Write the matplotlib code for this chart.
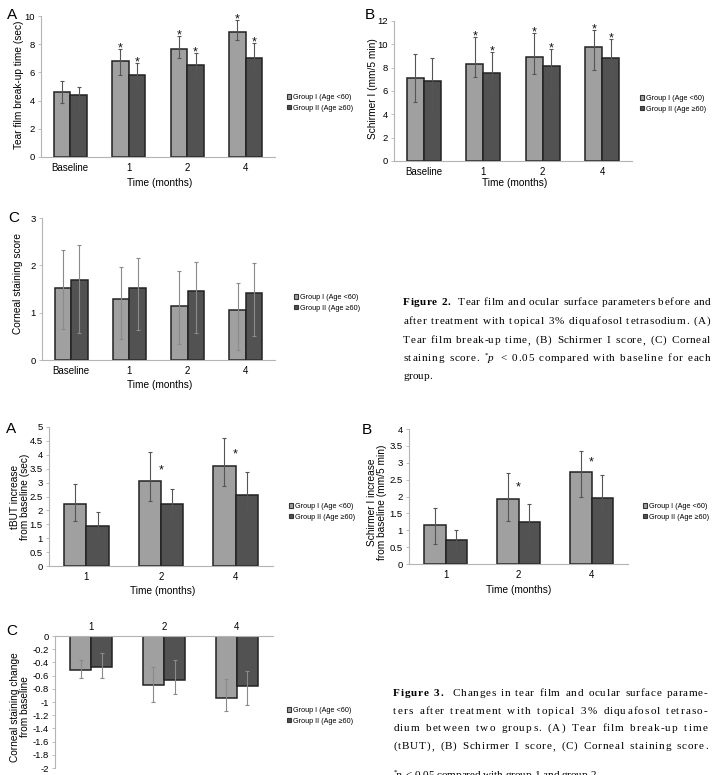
import matplotlib
matplotlib.use('Agg')
import matplotlib.pyplot as plt
from matplotlib.patches import Patch
from matplotlib.ticker import FuncFormatter
from matplotlib.font_manager import FontProperties, findfont, get_font
import numpy as np

plt.rcParams['font.family'] = ['Liberation Sans', 'DejaVu Sans']
plt.rcParams['axes.unicode_minus'] = False

W, H = 712, 775

# ---- data ----
months_f2 = ['Baseline', '1', '2', '4']
months_f3 = ['1', '2', '4']
group_labels = ['Group I (Age <60)', 'Group II (Age \u226560)']

# Figure 2A - tear film break-up time
tbut_g1 = [4.6, 6.8, 7.67, 8.87]
tbut_g1_hi = [5.42, 7.64, 8.58, 9.72]
tbut_g1_lo = [3.8, 5.8, 7.05, 8.28]
tbut_g2 = [4.43, 5.83, 6.53, 7.03]
tbut_g2_hi = [4.95, 6.65, 7.36, 8.11]
tbut_g2_lo = [3.23, 4.95, 5.75, 6.06]

# Figure 2B - Schirmer I
sch_g1 = [7.14, 8.31, 8.91, 9.77]
sch_g1_hi = [9.2, 10.66, 10.94, 11.23]
sch_g1_lo = [5.03, 7.17, 7.43, 7.8]
sch_g2 = [6.86, 7.54, 8.11, 8.86]
sch_g2_hi = [8.83, 9.31, 9.63, 10.46]
sch_g2_lo = [4.17, 5.51, 6.03, 7.06]

# Figure 2C - corneal staining
cs_g1 = [1.53, 1.29, 1.15, 1.06]
cs_g1_hi = [2.33, 1.97, 1.88, 1.63]
cs_g1_lo = [0.66, 0.44, 0.34, 0.22]
cs_g2 = [1.69, 1.52, 1.45, 1.41]
cs_g2_hi = [2.42, 2.15, 2.08, 2.04]
cs_g2_lo = [0.58, 0.63, 0.56, 0.5]

# Figure 3A - tBUT increase
dtbut_g1 = [2.22, 3.06, 3.61]
dtbut_g1_hi = [2.94, 4.1, 4.59]
dtbut_g1_lo = [1.63, 2.35, 2.88]
dtbut_g2 = [1.45, 2.24, 2.57]
dtbut_g2_hi = [1.93, 2.76, 3.37]
dtbut_g2_lo = [1.17, 1.7, 2.11]

# Figure 3B - Schirmer increase
dsch_g1 = [1.15, 1.93, 2.72]
dsch_g1_hi = [1.66, 2.69, 3.36]
dsch_g1_lo = [0.6, 1.28, 1.99]
dsch_g2 = [0.72, 1.24, 1.96]
dsch_g2_hi = [1.02, 1.78, 2.64]
dsch_g2_lo = [0.4, 0.73, 1.53]

# Figure 3C - corneal staining change
dcs_g1 = [-0.52, -0.745, -0.935]
dcs_g1_hi = [-0.37, -0.475, -0.655]
dcs_g1_lo = [-0.635, -1.0, -1.13]
dcs_g2 = [-0.475, -0.66, -0.765]
dcs_g2_hi = [-0.26, -0.365, -0.535]
dcs_g2_lo = [-0.635, -0.885, -1.04]

c1 = '#a0a0a0'
c2 = '#525252'
spine_c = '#b4b4b4'

fig = plt.figure(figsize=(W / 100, H / 100), dpi=100)


def px_axes(l, t, r, b):
    return fig.add_axes([l / W, 1 - b / H, (r - l) / W, (b - t) / H])


def fx(x):
    return x / W


def fy(y):
    return 1 - y / H


def bar_panel(ax, cats, m1, h1, l1, m2, h2, l2, width, errc='#555555'):
    x = np.arange(len(cats))
    for xs, m, h, l, c in [(x - width / 2, m1, h1, l1, c1), (x + width / 2, m2, h2, l2, c2)]:
        m = np.array(m); h = np.array(h); l = np.array(l)
        ax.bar(xs, m, width, color=c, edgecolor='#222222', linewidth=1.1, zorder=2)
        ax.errorbar(xs, m, yerr=[m - l, h - m], fmt='none', ecolor=errc,
                    elinewidth=0.8, capsize=1.6, capthick=0.8, zorder=3)
    ax.set_xlim(-0.5, len(cats) - 0.5)
    ax.set_xticks(x)
    ax.set_xticklabels(cats)
    for s in ['top', 'right']:
        ax.spines[s].set_visible(False)
    for s in ['left', 'bottom']:
        ax.spines[s].set_color(spine_c)
        ax.spines[s].set_linewidth(0.8)
    ax.tick_params(axis='x', length=0, labelsize=7, pad=4)
    ax.tick_params(axis='y', length=2.5, width=0.6, color=spine_c, labelsize=6.8, pad=2)
    ax.yaxis.set_major_formatter(FuncFormatter(lambda v, p: '{:g}'.format(round(v, 2) + 0.0)))
    return x


def add_legend(ax, x, y):
    hs = [Patch(facecolor=c1, edgecolor='#333333', lw=0.8),
          Patch(facecolor=c2, edgecolor='#333333', lw=0.8)]
    ax.legend(hs, group_labels, loc='center left', bbox_to_anchor=(fx(x), fy(y)),
              bbox_transform=fig.transFigure, frameon=False, borderpad=0,
              handlelength=0.65, handleheight=0.65, handletextpad=0.3,
              labelspacing=0.45, fontsize=5.2)


def star(ax, x, y):
    ax.annotate('*', (x, y), xytext=(0, 0.5), textcoords='offset points',
                ha='center', va='center', fontsize=9, color='#111111')


# ----- Figure 2A
ax = px_axes(41, 16, 275, 157)
x = bar_panel(ax, months_f2, tbut_g1, tbut_g1_hi, tbut_g1_lo, tbut_g2, tbut_g2_hi, tbut_g2_lo, 0.285)
ax.set_ylim(0, 10)
ax.set_yticks(np.arange(0, 11, 2))
for i in range(1, 4):
    star(ax, x[i] - 0.1425, tbut_g1_hi[i])
    star(ax, x[i] + 0.1425, tbut_g2_hi[i])
add_legend(ax, 283, 103)
fig.text(fx(19), fy(85), 'Tear film break-up time (sec)', rotation=90, ha='center', va='center', fontsize=7.3)
fig.text(fx(160), fy(183), 'Time (months)', ha='center', va='center', fontsize=7.3)
fig.text(fx(12), fy(15), 'A', ha='center', va='center', fontsize=11)

# ----- Figure 2B
ax = px_axes(394, 21, 632, 161)
x = bar_panel(ax, months_f2, sch_g1, sch_g1_hi, sch_g1_lo, sch_g2, sch_g2_hi, sch_g2_lo, 0.285)
ax.set_ylim(0, 12)
ax.set_yticks(np.arange(0, 13, 2))
for i in range(1, 4):
    star(ax, x[i] - 0.1425, sch_g1_hi[i])
    star(ax, x[i] + 0.1425, sch_g2_hi[i])
add_legend(ax, 636, 104)
fig.text(fx(373), fy(89), 'Schirmer I (mm/5 min)', rotation=90, ha='center', va='center', fontsize=7.3)
fig.text(fx(515), fy(183), 'Time (months)', ha='center', va='center', fontsize=7.3)
fig.text(fx(370), fy(15), 'B', ha='center', va='center', fontsize=11)

# ----- Figure 2C
ax = px_axes(42, 218, 275, 360)
x = bar_panel(ax, months_f2, cs_g1, cs_g1_hi, cs_g1_lo, cs_g2, cs_g2_hi, cs_g2_lo, 0.285, errc='#8a8a8a')
ax.set_ylim(0, 3)
ax.set_yticks([0, 1, 2, 3])
add_legend(ax, 290, 303)
fig.text(fx(18), fy(284), 'Corneal staining score', rotation=90, ha='center', va='center', fontsize=7.3)
fig.text(fx(160), fy(385), 'Time (months)', ha='center', va='center', fontsize=7.3)
fig.text(fx(14), fy(218), 'C', ha='center', va='center', fontsize=11)

# ----- Figure 3A
ax = px_axes(49, 427, 273, 566)
x = bar_panel(ax, months_f3, dtbut_g1, dtbut_g1_hi, dtbut_g1_lo, dtbut_g2, dtbut_g2_hi, dtbut_g2_lo, 0.3)
ax.set_ylim(0, 5)
ax.set_yticks(np.arange(0, 5.01, 0.5))
for i in [1, 2]:
    star(ax, x[i], (dtbut_g1_hi[i] + dtbut_g2_hi[i]) / 2)
add_legend(ax, 285, 512)
fig.text(fx(20), fy(497), 'tBUT increase\nfrom baseline (sec)', rotation=90, ha='center', va='center',
         fontsize=7.3, linespacing=1.0)
fig.text(fx(163), fy(591), 'Time (months)', ha='center', va='center', fontsize=7.3)
fig.text(fx(11), fy(429), 'A', ha='center', va='center', fontsize=11)

# ----- Figure 3B
ax = px_axes(409, 429, 628, 564)
x = bar_panel(ax, months_f3, dsch_g1, dsch_g1_hi, dsch_g1_lo, dsch_g2, dsch_g2_hi, dsch_g2_lo, 0.3)
ax.set_ylim(0, 4)
ax.set_yticks(np.arange(0, 4.01, 0.5))
for i in [1, 2]:
    star(ax, x[i], (dsch_g1_hi[i] + dsch_g2_hi[i]) / 2)
add_legend(ax, 639, 512)
fig.text(fx(377), fy(502), 'Schirmer I increase\nfrom baseline (mm/5 min)', rotation=90, ha='center',
         va='center', fontsize=7.3, linespacing=1.0)
fig.text(fx(519), fy(590), 'Time (months)', ha='center', va='center', fontsize=7.3)
fig.text(fx(367), fy(430), 'B', ha='center', va='center', fontsize=11)

# ----- Figure 3C
ax = px_axes(55, 636, 273, 768)
x = bar_panel(ax, months_f3, dcs_g1, dcs_g1_hi, dcs_g1_lo, dcs_g2, dcs_g2_hi, dcs_g2_lo, 0.29, errc='#8a8a8a')
ax.set_ylim(-2, 0)
ax.set_yticks(np.round(np.arange(-2, 0.01, 0.2), 1))
ax.xaxis.tick_top()
ax.spines['bottom'].set_visible(False)
ax.spines['top'].set_visible(True)
ax.spines['top'].set_color(spine_c)
ax.spines['top'].set_linewidth(0.8)
ax.tick_params(axis='x', length=0, labelsize=7, pad=3)
add_legend(ax, 283, 716)
fig.text(fx(20), fy(707), 'Corneal staining change\nfrom baseline', rotation=90, ha='center', va='center',
         fontsize=7.3, linespacing=1.0)
fig.text(fx(12), fy(631), 'C', ha='center', va='center', fontsize=11)

# ----- captions: justified serif text, spread per character like the journal's tracking
cap_fs = 8
styles = {
    'n': dict(weight='normal', style='normal', size=cap_fs, dy=0),
    'b': dict(weight='bold', style='normal', size=cap_fs, dy=0),
    'i': dict(weight='normal', style='italic', size=cap_fs, dy=0),
    's': dict(weight='normal', style='normal', size=5, dy=4),
}


def glyph_metrics(c, st):
    fp = FontProperties(family='Liberation Serif', weight=st['weight'], style=st['style'], size=st['size'])
    f = get_font(findfont(fp))
    f.set_size(st['size'], 100)
    g = f.load_char(ord(c))
    return g.linearHoriAdvance / 65536.0, g.horiBearingX / 64.0


def caption_line(segs, x0, x1, yb, justify=True):
    chars = []
    for key, s in segs:
        st = styles[key]
        for c in s:
            a, lsb = glyph_metrics(c, st)
            chars.append((c, st, a, lsb))
    nat = sum(ch[2] for ch in chars)
    # spaces take a bigger share of the slack than letter gaps
    wts = [2.5 if ch[0] == ' ' else 1.0 for ch in chars[:-1]]
    unit = (x1 - x0 - nat) / sum(wts) if justify else 0
    xc = x0
    for k, (c, st, a, lsb) in enumerate(chars):
        if c != ' ':
            fig.text(fx(xc + lsb), fy(yb - st['dy']), c, fontsize=st['size'], family='Liberation Serif',
                     fontweight=st['weight'], fontstyle=st['style'], va='baseline', ha='left')
        xc += a
        if k < len(wts):
            xc += unit * wts[k]


fig2_lines = [
    [('b', 'Figure 2.'), ('n', '  Tear film and ocular surface parameters before and')],
    [('n', 'after treatment with topical 3% diquafosol tetrasodium. (A)')],
    [('n', 'Tear film break-up time, (B) Schirmer I score, (C) Corneal')],
    [('n', 'staining score. '), ('s', '*'), ('i', 'p'), ('n', ' < 0.05 compared with baseline for each')],
    [('n', 'group.')],
]
fig2_base = [305, 324, 343, 361, 379]
for i, (ln, yb) in enumerate(zip(fig2_lines, fig2_base)):
    caption_line(ln, 403, 710, yb, justify=(i < len(fig2_lines) - 1))

fig3_lines = [
    [('b', 'Figure 3.'), ('n', '  Changes in tear film and ocular surface parame-')],
    [('n', 'ters after treatment with topical 3% diquafosol tetraso-')],
    [('n', 'dium between two groups. (A) Tear film break-up time')],
    [('n', '(tBUT), (B) Schirmer I score, (C) Corneal staining score.')],
    [('s', '*'), ('i', 'p'), ('n', ' < 0.05 compared with group 1 and group 2.')],
]
fig3_base = [696, 714, 731, 749, 778]
for i, (ln, yb) in enumerate(zip(fig3_lines, fig3_base)):
    caption_line(ln, 393, 707, yb, justify=(i < len(fig3_lines) - 1))

fig.savefig('out.png', dpi=100)
